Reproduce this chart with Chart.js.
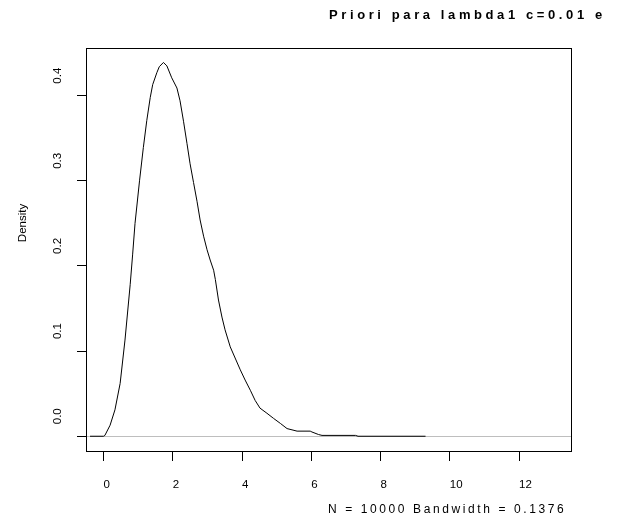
<!DOCTYPE html>
<html>
<head>
<meta charset="utf-8">
<script src="https://cdn.jsdelivr.net/npm/chart.js@4/dist/chart.umd.min.js"></script>
<style>
    body { margin: 0; background: #ffffff; }
</style>
</head>
<body>
<canvas id="density_chart" width="619" height="532"></canvas>
<script>
// values
var density_x = [-0.39, 0, 0.04, 0.19, 0.33, 0.48, 0.62, 0.77, 0.84, 0.91, 1.04, 1.15, 1.25, 1.35, 1.42,
    1.54, 1.61, 1.73, 1.83, 1.97, 2.12, 2.21, 2.31, 2.41, 2.50, 2.60, 2.70, 2.79, 2.89, 2.99, 3.08,
    3.18, 3.23, 3.32, 3.42, 3.51, 3.66, 3.95, 4.09, 4.24, 4.38, 4.52, 4.72, 4.91, 5.11, 5.30, 5.59,
    5.97, 6.02, 6.21, 6.31, 7.28, 7.35, 9.30];
var density_y = [0, 0, 0.001, 0.013, 0.031, 0.062, 0.113, 0.178, 0.213, 0.250, 0.300, 0.339, 0.371, 0.398, 0.413,
    0.427, 0.434, 0.439, 0.435, 0.421, 0.409, 0.394, 0.370, 0.344, 0.320, 0.298, 0.276, 0.254, 0.235, 0.219, 0.207,
    0.195, 0.184, 0.160, 0.140, 0.125, 0.105, 0.078, 0.066, 0.054, 0.042, 0.033, 0.027, 0.021, 0.015, 0.009, 0.006,
    0.006, 0.005, 0.002, 0.001, 0.001, 0, 0];
var x_ticks = [0, 2, 4, 6, 8, 10, 12];
var y_ticks = [0, 0.1, 0.2, 0.3, 0.4];
var main_title = 'Priori para lambda1 c=0.01 e';
var sub_title = 'N = 10000 Bandwidth = 0.1376';
var y_title = 'Density';

var chart_points = [];

function buildDensityData() {
    for (var i = 0; i < density_x.length; i++) {
        chart_points.push({ x: density_x[i], y: density_y[i] });
    }
}

// box round the plot plus the R style titles
var rPlotText = {
    id: 'rPlotText',
    afterDraw: function (chart) {
        var ctx = chart.ctx;
        var a = chart.chartArea;
        ctx.save();
        ctx.strokeStyle = '#000000';
        ctx.lineWidth = 1;
        var l = Math.round(a.left) + 0.5, t = Math.round(a.top) + 0.5;
        var r = Math.round(a.right) - 0.5, b = Math.round(a.bottom) - 0.5;
        ctx.strokeRect(l, t, r - l, b - t);

        ctx.fillStyle = '#000000';
        ctx.textAlign = 'left';
        ctx.textBaseline = 'middle';
        ctx.font = 'bold 13px "Liberation Sans"';
        ctx.letterSpacing = '3.6px';
        ctx.fillText(main_title, 329, 15);
        ctx.font = '12px "Liberation Sans"';
        ctx.letterSpacing = '2.6px';
        ctx.fillText(sub_title, 328, 510);
        ctx.letterSpacing = '0px';
        ctx.font = '11.5px "Liberation Sans"';
        ctx.translate(23, 223);
        ctx.rotate(-Math.PI / 2);
        ctx.textAlign = 'center';
        ctx.fillText(y_title, 0, 0);
        ctx.restore();
    }
};

function buildDensityChart() {
    var dc = document.getElementById('density_chart');
    var tickFont = { family: '"Liberation Sans", Arial, sans-serif', size: 11.5 };
    var densityChart = new Chart(dc, {
        type: 'line',
        data: {
            datasets: [{
                data: chart_points,
                borderColor: '#000000',
                borderWidth: 1,
                pointRadius: 0,
                fill: false,
                tension: 0
            }]
        },
        options: {
            responsive: false,
            animation: false,
            layout: { padding: { top: 48, right: 47, left: 0, bottom: 0 } },
            plugins: {
                legend: { display: false },
                tooltip: { enabled: false }
            },
            scales: {
                x: {
                    type: 'linear',
                    min: -0.506,
                    max: 13.53,
                    border: { display: false },
                    grid: { drawOnChartArea: false, tickLength: 9, tickColor: '#000000' },
                    ticks: {
                        align: 'start',
                        padding: 17,
                        color: '#000000',
                        font: tickFont,
                        maxRotation: 0,
                        callback: function (v) { return String(v); }
                    },
                    afterBuildTicks: function (scale) {
                        scale.ticks = x_ticks.map(function (v) { return { value: v }; });
                    },
                    afterFit: function (scale) { scale.height = 80; }
                },
                y: {
                    min: -0.0185,
                    max: 0.456,
                    border: { display: false },
                    grid: {
                        tickLength: 9,
                        tickColor: '#000000',
                        color: function (c) { return c.tick && c.tick.value === 0 ? '#bebebe' : 'rgba(0,0,0,0)'; }
                    },
                    ticks: {
                        minRotation: 90,
                        maxRotation: 90,
                        crossAlign: 'center',
                        labelOffset: -20,
                        padding: 11,
                        color: '#000000',
                        font: tickFont,
                        callback: function (v) { return v.toFixed(1); }
                    },
                    afterBuildTicks: function (scale) {
                        scale.ticks = y_ticks.map(function (v) { return { value: v }; });
                    },
                    afterFit: function (scale) { scale.width = 86; }
                }
            }
        },
        plugins: [rPlotText]
    });
}

buildDensityData();
buildDensityChart();
</script>
</body>
</html>
